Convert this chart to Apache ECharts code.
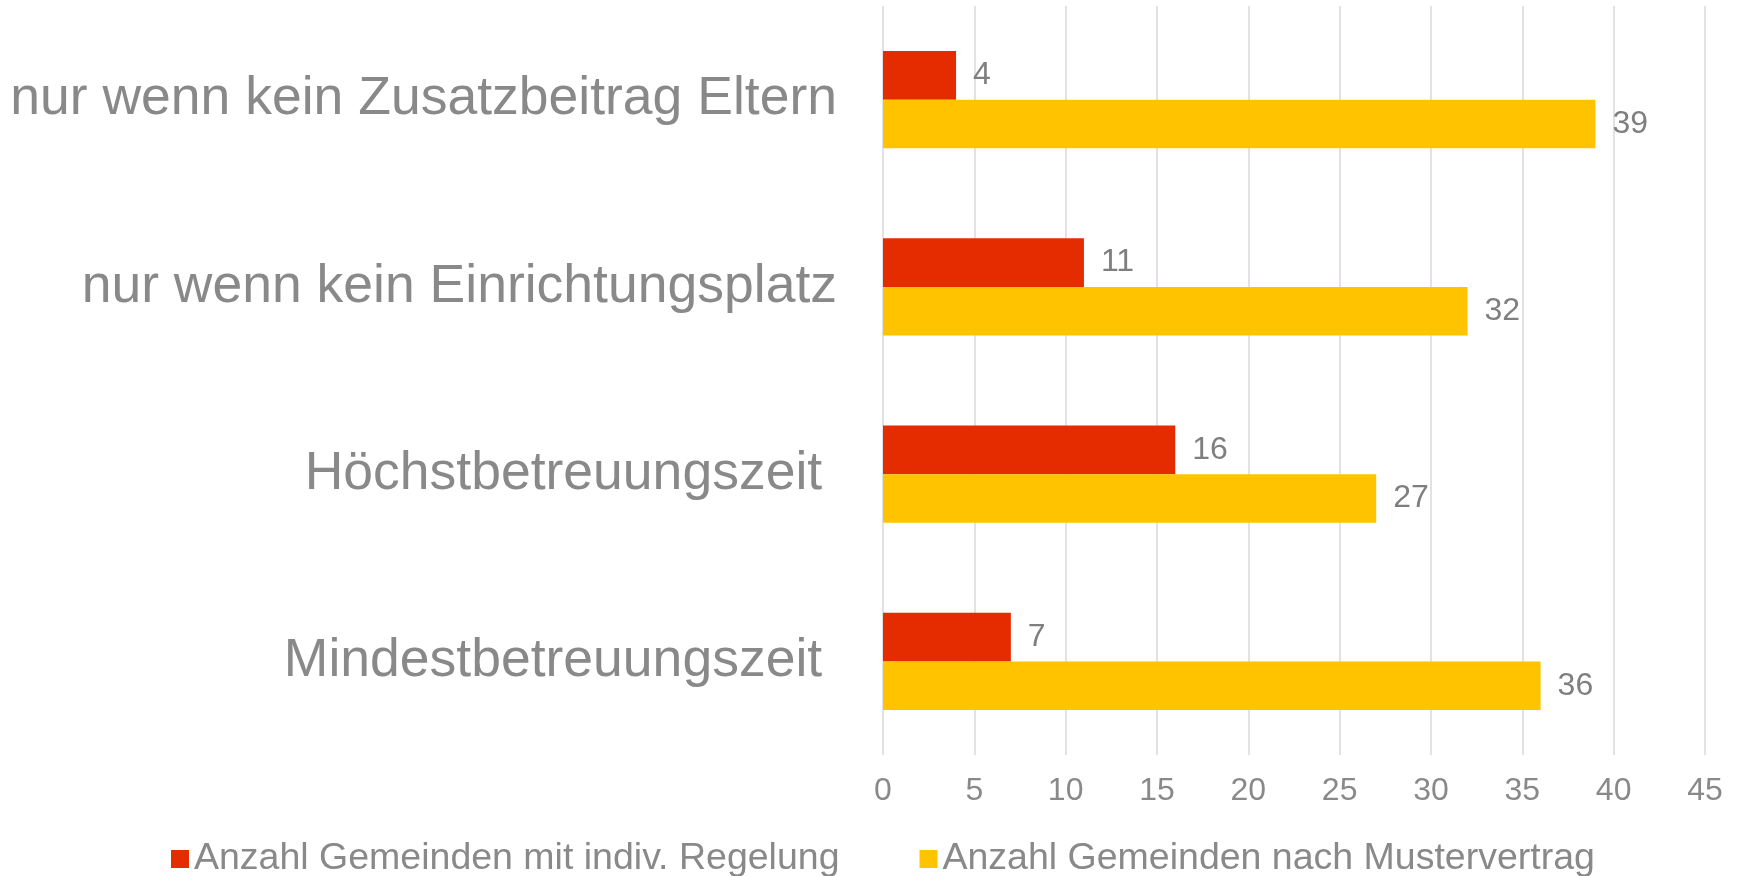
<!DOCTYPE html>
<html>
<head>
<meta charset="utf-8">
<script src="https://cdn.jsdelivr.net/npm/echarts@6/dist/echarts.min.js"></script>
<style>
    html, body { margin: 0; padding: 0; background: #fff; }
    #chart { width: 1738px; height: 876px; }
</style>
</head>
<body>
<div id="chart"></div>
<script>
// Kategorien von oben nach unten (Leerzeichen am Ende wie im Original)
const categories = [
    'nur wenn kein Zusatzbeitrag Eltern',
    'nur wenn kein Einrichtungsplatz',
    'Höchstbetreuungszeit ',
    'Mindestbetreuungszeit '
];
const seriesNames = ['Anzahl Gemeinden mit indiv. Regelung', 'Anzahl Gemeinden nach Mustervertrag'];
const individuell = [4, 11, 16, 7];
const mustervertrag = [39, 32, 27, 36];

const fontFamily = '"Liberation Sans", Arial, sans-serif';
const textColor = '#898989';

const chart = echarts.init(document.getElementById('chart'));

function barSeries(name, data, color) {
    return {
        name: name,
        type: 'bar',
        data: data,
        barGap: '0%',
        barCategoryGap: '48%',
        itemStyle: { color: color },
        label: {
            show: true,
            position: 'right',
            distance: 17,
            color: '#7f7f7f',
            fontSize: 32,
            fontFamily: fontFamily
        },
        animation: false
    };
}

chart.setOption({
    textStyle: { fontFamily: fontFamily },
    grid: {
        left: 883,
        right: 33,
        top: 6,
        bottom: 121
    },
    legend: {
        left: 166,
        top: 835,
        itemWidth: 18,
        itemHeight: 18,
        itemGap: 80,
        icon: 'rect',
        textStyle: { color: textColor, fontSize: 37.5, fontFamily: fontFamily },
        data: seriesNames
    },
    xAxis: {
        type: 'value',
        min: 0,
        max: 45,
        interval: 5,
        axisLine: { show: false },
        axisTick: { show: false },
        splitLine: { lineStyle: { color: '#d9d9d9', width: 1.5 } },
        axisLabel: { color: textColor, fontSize: 32, margin: 20, fontFamily: fontFamily }
    },
    yAxis: {
        type: 'category',
        inverse: true,
        data: categories,
        axisLine: { show: false },
        axisTick: { show: false },
        axisLabel: { color: textColor, fontSize: 53.5, margin: 46, fontFamily: fontFamily }
    },
    series: [
        barSeries(seriesNames[0], individuell, '#e52b00'),
        barSeries(seriesNames[1], mustervertrag, '#ffc300')
    ]
});
</script>
</body>
</html>
